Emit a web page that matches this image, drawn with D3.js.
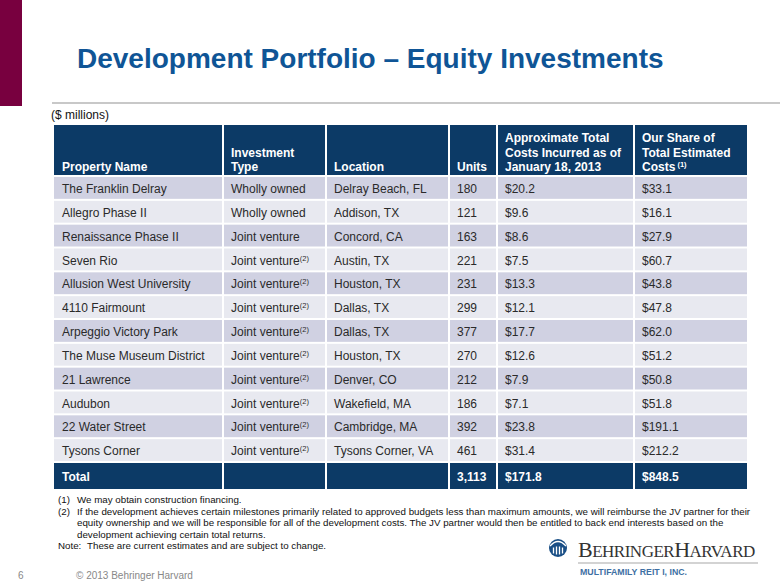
<!DOCTYPE html>
<html>
<head>
<meta charset="utf-8">
<script src="https://cdn.jsdelivr.net/npm/d3@7"></script>
<style>
  html, body { margin: 0; padding: 0; background: #fff; }
  svg { display: block; font-family: "Liberation Sans", Arial, sans-serif; }
</style>
</head>
<body>
<svg id="chart" width="780" height="585"></svg>
<script>
// ---- data ----
const headers = [
  ["Property Name"],
  ["Investment", "Type"],
  ["Location"],
  ["Units"],
  ["Approximate Total", "Costs Incurred as of", "January 18, 2013"],
  ["Our Share of", "Total Estimated", "Costs"]
];
const propertyNames = ["The Franklin Delray", "Allegro Phase II", "Renaissance Phase II", "Seven Rio",
  "Allusion West University", "4110 Fairmount", "Arpeggio Victory Park", "The Muse Museum District",
  "21 Lawrence", "Audubon", "22 Water Street", "Tysons Corner"];
const investmentTypes = ["Wholly owned", "Wholly owned", "Joint venture", "Joint venture", "Joint venture",
  "Joint venture", "Joint venture", "Joint venture", "Joint venture", "Joint venture", "Joint venture", "Joint venture"];
const typeNotes = ["", "", "", "(2)", "(2)", "(2)", "(2)", "(2)", "(2)", "(2)", "(2)", "(2)"];
const locations = ["Delray Beach, FL", "Addison, TX", "Concord, CA", "Austin, TX", "Houston, TX", "Dallas, TX",
  "Dallas, TX", "Houston, TX", "Denver, CO", "Wakefield, MA", "Cambridge, MA", "Tysons Corner, VA"];
const units = [180, 121, 163, 221, 231, 299, 377, 270, 212, 186, 392, 461];
const costsIncurred = [20.2, 9.6, 8.6, 7.5, 13.3, 12.1, 17.7, 12.6, 7.9, 7.1, 23.8, 31.4];
const ourShare = [33.1, 16.1, 27.9, 60.7, 43.8, 47.8, 62.0, 51.2, 50.8, 51.8, 191.1, 212.2];
const totalRow = ["Total", "", "", "3,113", "$171.8", "$848.5"];
const footnotes = [
  ["(1)", "We may obtain construction financing."],
  ["(2)", "If the development achieves certain milestones primarily related to approved budgets less than maximum amounts, we will reimburse the JV partner for their"],
  ["", "equity ownership and we will be responsible for all of the development costs. The JV partner would then be entitled to back end interests based on the"],
  ["", "development achieving certain total returns."]
];
const noteText = "These are current estimates and are subject to change.";

// ---- layout ----
const svg = d3.select("#chart");
const navy = "#0c3a66";
const darkRow = "#d0d1e2";
const lightRow = "#e8e9f0";
const textCol = "#2a2a2a";

// left maroon bar
svg.append("rect").attr("x", 0).attr("y", 0).attr("width", 22).attr("height", 106).attr("fill", "#78003f");

// title
svg.append("text").attr("x", 77).attr("y", 68)
  .attr("font-size", 28).attr("font-weight", "bold").attr("fill", "#0f5596")
  .text("Development Portfolio \u2013 Equity Investments");

// rule
svg.append("line").attr("x1", 52).attr("x2", 780).attr("y1", 103).attr("y2", 103)
  .attr("stroke", "#c8c8c8").attr("stroke-width", 2);

svg.append("text").attr("x", 51).attr("y", 119).attr("font-size", 12).attr("fill", "#111")
  .text("($ millions)");

// columns
const colEdges = [54, 223, 326, 449, 497, 634, 748];
const colX = d3.scaleOrdinal().domain(d3.range(6)).range(colEdges.slice(0, 6));
const colW = i => colEdges[i + 1] - colEdges[i];

// rows
const rowY = d3.scaleBand().domain(d3.range(propertyNames.length)).range([176, 462]);
const headerTop = 125, headerBottom = 176;
const totalTop = 463, totalBottom = 489;

// header cells
const hdr = svg.append("g");
hdr.selectAll("rect").data(headers).join("rect")
  .attr("x", (d, i) => colX(i) + (i === 0 ? 0 : 1))
  .attr("y", headerTop)
  .attr("width", (d, i) => colW(i) - (i === 0 ? 1 : 2))
  .attr("height", headerBottom - headerTop - 1)
  .attr("fill", navy);
hdr.selectAll("text").data(headers).join("text")
  .attr("x", (d, i) => colX(i) + 8)
  .attr("font-size", 12).attr("font-weight", "bold").attr("fill", "#fff")
  .each(function (lines, i) {
    const t = d3.select(this);
    lines.forEach((ln, k) => {
      t.append("tspan").attr("x", colX(i) + 8)
        .attr("y", 171 - (lines.length - 1 - k) * 14.5).text(ln);
    });
    if (i === 5) {
      t.append("tspan").attr("font-size", 7.5).attr("dy", -4).text(" (1)");
    }
  });

// body rows
const rows = propertyNames.map((n, i) => [
  { t: n },
  { t: investmentTypes[i], sup: typeNotes[i] },
  { t: locations[i] },
  { t: String(units[i]) },
  { t: "$" + costsIncurred[i].toFixed(1) },
  { t: "$" + ourShare[i].toFixed(1) }
]);
const body = svg.append("g");
rows.forEach((cells, r) => {
  const g = body.append("g");
  g.selectAll("rect").data(cells).join("rect")
    .attr("x", (d, i) => colX(i) + (i === 0 ? 0 : 1))
    .attr("y", rowY(r) + 1)
    .attr("width", (d, i) => colW(i) - (i === 0 ? 1 : 2))
    .attr("height", rowY.bandwidth() - 2)
    .attr("fill", r % 2 === 0 ? darkRow : lightRow);
  g.selectAll("text").data(cells).join("text")
    .attr("x", (d, i) => colX(i) + 8)
    .attr("y", rowY(r) + 17)
    .attr("font-size", 12).attr("fill", textCol)
    .each(function (d) {
      const t = d3.select(this);
      t.append("tspan").text(d.t);
      if (d.sup) t.append("tspan").attr("font-size", 7.5).attr("dy", -4).text(d.sup);
    });
});

// total row
const tot = svg.append("g");
tot.selectAll("rect").data(totalRow).join("rect")
  .attr("x", (d, i) => colX(i) + (i === 0 ? 0 : 1))
  .attr("y", totalTop)
  .attr("width", (d, i) => colW(i) - (i === 0 ? 1 : 2))
  .attr("height", totalBottom - totalTop)
  .attr("fill", navy);
tot.selectAll("text").data(totalRow).join("text")
  .attr("x", (d, i) => colX(i) + 8)
  .attr("y", totalTop + 17.5)
  .attr("font-size", 12).attr("font-weight", "bold").attr("fill", "#fff")
  .text(d => d);

// footnotes
const fn = svg.append("g").attr("font-size", 9.75).attr("fill", "#111");
footnotes.forEach((f, i) => {
  const y = 503 + i * 11.5;
  if (f[0]) fn.append("text").attr("x", 58).attr("y", y).text(f[0]);
  fn.append("text").attr("x", 77).attr("y", y).text(f[1]);
});
fn.append("text").attr("x", 58).attr("y", 549).text("Note:");
fn.append("text").attr("x", 87).attr("y", 549).text(noteText);

// footer
svg.append("text").attr("x", 18).attr("y", 579).attr("font-size", 10).attr("fill", "#888").text("6");
svg.append("text").attr("x", 76).attr("y", 579).attr("font-size", 10).attr("fill", "#888")
  .text("\u00A9 2013 Behringer Harvard");

// logo
const logo = svg.append("g");
logo.append("circle").attr("cx", 558).attr("cy", 548).attr("r", 9).attr("fill", "#1a4f86");
[[-4.5, 5], [-1.5, 7], [1.5, 7], [4.5, 5]].forEach(([dx, h]) => {
  logo.append("line").attr("x1", 558 + dx).attr("x2", 558 + dx)
    .attr("y1", 548 - h / 2 + 2).attr("y2", 548 + h / 2 + 3)
    .attr("stroke", "#fff").attr("stroke-width", 1.3);
});
logo.append("path").attr("d", "M550,546 Q558,537 566,546").attr("fill", "none")
  .attr("stroke", "#fff").attr("stroke-width", 1.3);
const brand = logo.append("text").attr("x", 578).attr("y", 557)
  .attr("font-family", "'Liberation Serif', 'Times New Roman', serif")
  .attr("fill", "#333").attr("letter-spacing", -0.5);
[["B", 22], ["EHRINGER", 17], ["H", 22], ["ARVARD", 17]].forEach(([s, fs]) => {
  brand.append("tspan").attr("font-size", fs).text(s);
});
logo.append("line").attr("x1", 578).attr("x2", 758).attr("y1", 563).attr("y2", 563)
  .attr("stroke", "#c4c4c4").attr("stroke-width", 1.5);
logo.append("text").attr("x", 580).attr("y", 575)
  .attr("font-size", 9.5).attr("font-weight", "bold").attr("fill", "#3d6fa3")
  .attr("textLength", 107).attr("lengthAdjust", "spacingAndGlyphs")
  .text("MULTIFAMILY REIT I, INC.");
</script>
</body>
</html>
